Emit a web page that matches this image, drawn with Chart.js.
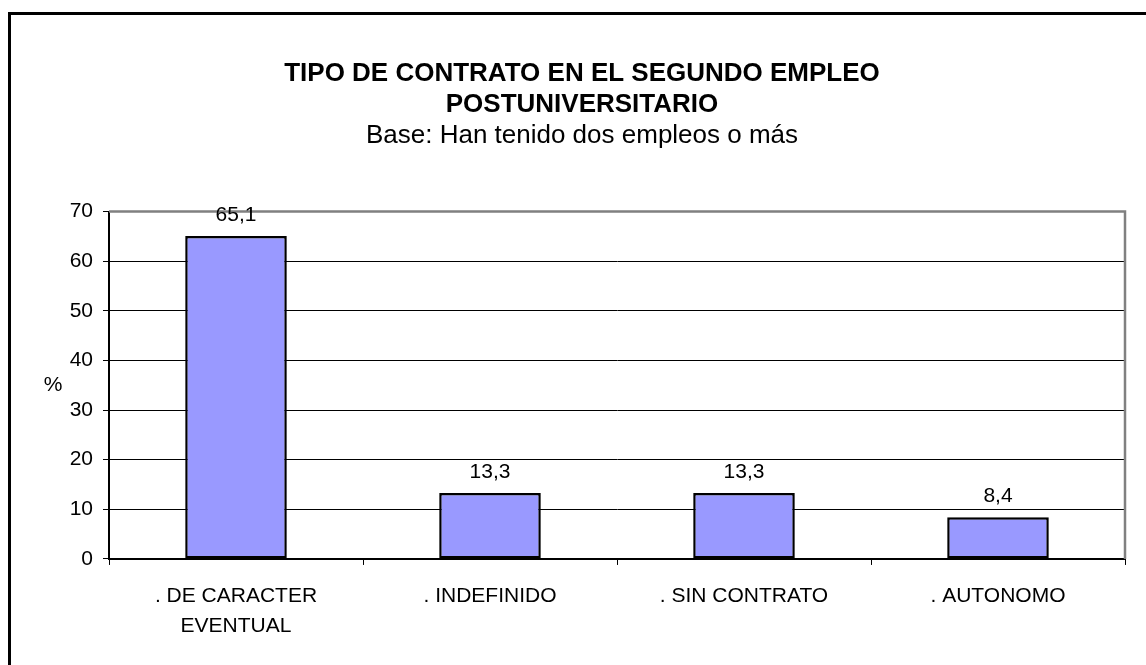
<!DOCTYPE html>
<html>
<head>
    <title>Tipo de contrato</title>
    <script src="https://cdn.jsdelivr.net/npm/chart.js"></script>
    <style>
        body { margin: 0; background: #fff; overflow: hidden; }
        .frame {
            position: absolute;
            left: 8px;
            top: 12px;
            width: 1200px;
            height: 700px;
            border-top: 3px solid #000;
            border-left: 3px solid #000;
        }
        .chart-box {
            position: absolute;
            left: 0;
            top: 0;
            width: 1146px;
            height: 665px;
        }
    </style>
</head>
<body>
    <div class="frame"></div>
    <div class="chart-box">
        <canvas id="barChart" width="1146" height="665"></canvas>
    </div>

    <script>
        const categories = [['. DE CARACTER', 'EVENTUAL'], '. INDEFINIDO', '. SIN CONTRATO', '. AUTONOMO'];
        const percentages = [65.1, 13.3, 13.3, 8.4];
        const yMin = 0, yMax = 70, yStep = 10;

        const titleLines = ['TIPO DE CONTRATO EN EL SEGUNDO EMPLEO', 'POSTUNIVERSITARIO'];
        const subtitleText = 'Base: Han tenido dos empleos o más';
        const yAxisLabel = '%';

        const fontFamily = '"Liberation Sans", Arial, sans-serif';

        // etiquetas de valor encima de cada barra, con coma decimal
        const valueLabels = {
            id: 'valueLabels',
            afterDatasetsDraw(chart) {
                const c = chart.ctx;
                const meta = chart.getDatasetMeta(0);
                c.save();
                c.font = '21px ' + fontFamily;
                c.fillStyle = '#000';
                c.textAlign = 'center';
                c.textBaseline = 'alphabetic';
                meta.data.forEach((bar, i) => {
                    const txt = percentages[i].toFixed(1).replace('.', ',');
                    c.fillText(txt, bar.x, bar.y - 15);
                });
                c.restore();
            }
        };

        // marco gris arriba y a la derecha del área de trazado, y el "%" horizontal
        const plotFrame = {
            id: 'plotFrame',
            beforeDatasetsDraw(chart) {
                const a = chart.chartArea;
                const c = chart.ctx;
                c.save();
                c.strokeStyle = '#808080';
                c.lineWidth = 2.5;
                c.beginPath();
                c.moveTo(a.left, a.top);
                c.lineTo(a.right, a.top);
                c.lineTo(a.right, a.bottom);
                c.stroke();
                c.font = '21px ' + fontFamily;
                c.fillStyle = '#000';
                c.textAlign = 'center';
                c.textBaseline = 'middle';
                c.fillText(yAxisLabel, 53, (a.top + a.bottom) / 2);
                c.restore();
            }
        };

        const ctx = document.getElementById('barChart');
        new Chart(ctx, {
            type: 'bar',
            data: {
                labels: categories,
                datasets: [{
                    data: percentages,
                    backgroundColor: '#9999FF',
                    borderColor: '#000',
                    borderWidth: 2.5,
                    borderSkipped: false,
                    categoryPercentage: 1,
                    barPercentage: 0.4
                }]
            },
            options: {
                responsive: false,
                animation: false,
                layout: {
                    padding: { left: 39, right: 21, top: 0, bottom: 8 }
                },
                plugins: {
                    legend: { display: false },
                    tooltip: { enabled: false },
                    title: {
                        display: true,
                        text: titleLines,
                        color: '#000',
                        font: { family: fontFamily, size: 26, weight: 'bold', lineHeight: 1.2 },
                        padding: { top: 58, bottom: 0 }
                    },
                    subtitle: {
                        display: true,
                        text: subtitleText,
                        color: '#000',
                        font: { family: fontFamily, size: 26, lineHeight: 1.2 },
                        padding: { top: 0, bottom: 60 }
                    }
                },
                scales: {
                    x: {
                        grid: {
                            drawOnChartArea: false,
                            drawTicks: true,
                            tickLength: 6,
                            color: '#000',
                            offset: true
                        },
                        border: { color: '#000', width: 2 },
                        ticks: {
                            color: '#000',
                            padding: 16,
                            maxRotation: 0,
                            autoSkip: false,
                            font: { family: fontFamily, size: 21, lineHeight: 1.43 }
                        }
                    },
                    y: {
                        min: yMin,
                        max: yMax,
                        afterFit(scale) { scale.width = 70; },
                        grid: {
                            color: (c) => c.tick && c.tick.value === yMax ? 'rgba(0,0,0,0)' : '#000',
                            lineWidth: 1,
                            tickLength: 6,
                            tickColor: '#000'
                        },
                        border: { color: '#000', width: 2 },
                        ticks: {
                            stepSize: yStep,
                            color: '#000',
                            padding: 10,
                            font: { family: fontFamily, size: 21 }
                        }
                    }
                }
            },
            plugins: [plotFrame, valueLabels]
        });
    </script>
</body>
</html>
